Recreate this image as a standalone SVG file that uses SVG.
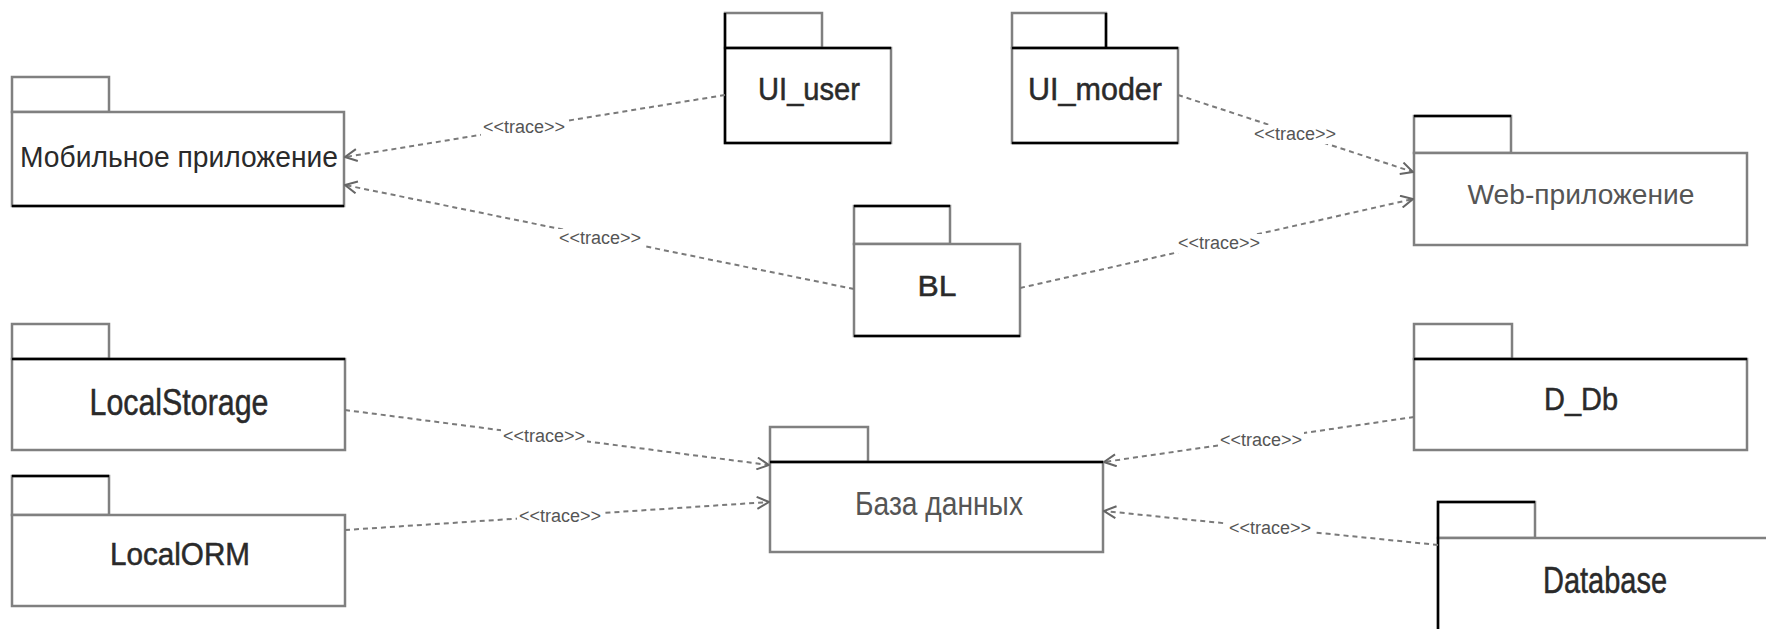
<svg xmlns="http://www.w3.org/2000/svg" width="1766" height="629" viewBox="0 0 1766 629">
  <defs>
    <style>
      .tab, .body { fill: #ffffff; stroke: #808080; stroke-width: 2.5; }
      .k { stroke: #000000; stroke-width: 2.5; fill: none; }
      .name { font-family: "Liberation Sans", Arial, sans-serif; fill: #2a2a2a; text-anchor: middle; }
      .heavy { stroke: #2a2a2a; stroke-width: 0.5; }
      .soft { fill: #555555; }
      .conn { fill: none; stroke: #7a7a7a; stroke-width: 2; stroke-dasharray: 5 4; }
      .lblbg { fill: #ffffff; }
      .lbl { font-family: "Liberation Sans", Arial, sans-serif; font-size: 18px; fill: #555555; text-anchor: middle; }
    </style>
    <marker id="open" markerUnits="userSpaceOnUse" viewBox="0 0 14 14" markerWidth="14" markerHeight="14" refX="13" refY="7" orient="auto">
      <path d="M1,1 L13,7 L1,13" fill="none" stroke="#666666" stroke-width="2"/>
    </marker>
  </defs>

  <!-- packages -->
  <g id="mobile-app">
    <rect class="tab" x="12" y="77" width="97" height="35"/>
    <rect class="body" x="12" y="112" width="332" height="94"/>
    <line class="k" x1="12" y1="206" x2="344" y2="206"/>
    <text class="name" x="179" y="167" font-size="30" textLength="318" lengthAdjust="spacingAndGlyphs">Мобильное приложение</text>
  </g>

  <g id="ui-user">
    <rect class="tab" x="725" y="13" width="97" height="35"/>
    <rect class="body" x="725" y="48" width="166" height="95"/>
    <path class="k" d="M725,48 V13 M725,48 H891 M725,48 V143 H891"/>
    <text class="name heavy" x="809" y="100" font-size="31" textLength="102" lengthAdjust="spacingAndGlyphs">UI_user</text>
  </g>

  <g id="ui-moder">
    <rect class="tab" x="1012" y="13" width="94" height="35"/>
    <rect class="body" x="1012" y="48" width="166" height="95"/>
    <path class="k" d="M1106,13 V48 M1012,48 H1178 M1012,143 H1178"/>
    <text class="name heavy" x="1095" y="100" font-size="31" textLength="134" lengthAdjust="spacingAndGlyphs">UI_moder</text>
  </g>

  <g id="web-app">
    <rect class="tab" x="1414" y="116" width="97" height="37"/>
    <rect class="body" x="1414" y="153" width="333" height="92"/>
    <line class="k" x1="1414" y1="116" x2="1511" y2="116"/>
    <text class="name soft" x="1581" y="204" font-size="27" textLength="227" lengthAdjust="spacingAndGlyphs">Web-приложение</text>
  </g>

  <g id="bl">
    <rect class="tab" x="854" y="206" width="96" height="38"/>
    <rect class="body" x="854" y="244" width="166" height="92"/>
    <path class="k" d="M854,206 H950 M854,336 H1020"/>
    <text class="name heavy" x="937" y="296" font-size="30" textLength="39" lengthAdjust="spacingAndGlyphs">BL</text>
  </g>

  <g id="local-storage">
    <rect class="tab" x="12" y="324" width="97" height="35"/>
    <rect class="body" x="12" y="359" width="333" height="91"/>
    <line class="k" x1="12" y1="359" x2="345" y2="359"/>
    <text class="name heavy" x="179" y="415" font-size="37" textLength="179" lengthAdjust="spacingAndGlyphs">LocalStorage</text>
  </g>

  <g id="local-orm">
    <rect class="tab" x="12" y="476" width="97" height="39"/>
    <rect class="body" x="12" y="515" width="333" height="91"/>
    <line class="k" x1="12" y1="476" x2="109" y2="476"/>
    <text class="name heavy" x="180" y="565" font-size="31" textLength="140" lengthAdjust="spacingAndGlyphs">LocalORM</text>
  </g>

  <g id="database-ru">
    <rect class="tab" x="770" y="427" width="98" height="35"/>
    <rect class="body" x="770" y="462" width="333" height="90"/>
    <line class="k" x1="770" y1="462" x2="1103" y2="462"/>
    <text class="name soft" x="939" y="515" font-size="34" textLength="168" lengthAdjust="spacingAndGlyphs">База данных</text>
  </g>

  <g id="d-db">
    <rect class="tab" x="1414" y="324" width="98" height="35"/>
    <rect class="body" x="1414" y="359" width="333" height="91"/>
    <line class="k" x1="1414" y1="359" x2="1747" y2="359"/>
    <text class="name heavy" x="1581" y="410" font-size="31" textLength="74" lengthAdjust="spacingAndGlyphs">D_Db</text>
  </g>

  <g id="database">
    <rect class="tab" x="1438" y="502" width="97" height="36"/>
    <rect class="body" x="1438" y="538" width="333" height="95"/>
    <path class="k" d="M1535,502 H1438 V633"/>
    <text class="name heavy" x="1605" y="593" font-size="36" textLength="124" lengthAdjust="spacingAndGlyphs">Database</text>
  </g>

  <!-- trace dependencies -->
  <g id="connectors">
    <line class="conn" x1="725" y1="95" x2="345" y2="157" marker-end="url(#open)"/>
    <line class="conn" x1="854" y1="289" x2="345" y2="185" marker-end="url(#open)"/>
    <line class="conn" x1="1178" y1="95" x2="1413" y2="172" marker-end="url(#open)"/>
    <line class="conn" x1="1020" y1="288" x2="1413" y2="199" marker-end="url(#open)"/>
    <line class="conn" x1="345" y1="410" x2="769" y2="465" marker-end="url(#open)"/>
    <line class="conn" x1="345" y1="530" x2="769" y2="502" marker-end="url(#open)"/>
    <line class="conn" x1="1414" y1="417" x2="1104" y2="462" marker-end="url(#open)"/>
    <line class="conn" x1="1438" y1="545" x2="1104" y2="511" marker-end="url(#open)"/>

    <rect class="lblbg" x="481" y="118" width="86" height="19"/>
    <text class="lbl" x="524" y="133" textLength="82" lengthAdjust="spacingAndGlyphs">&lt;&lt;trace&gt;&gt;</text>
    <rect class="lblbg" x="557" y="229" width="86" height="19"/>
    <text class="lbl" x="600" y="244" textLength="82" lengthAdjust="spacingAndGlyphs">&lt;&lt;trace&gt;&gt;</text>
    <rect class="lblbg" x="1252" y="125" width="86" height="19"/>
    <text class="lbl" x="1295" y="140" textLength="82" lengthAdjust="spacingAndGlyphs">&lt;&lt;trace&gt;&gt;</text>
    <rect class="lblbg" x="1176" y="234" width="86" height="19"/>
    <text class="lbl" x="1219" y="249" textLength="82" lengthAdjust="spacingAndGlyphs">&lt;&lt;trace&gt;&gt;</text>
    <rect class="lblbg" x="501" y="427" width="86" height="19"/>
    <text class="lbl" x="544" y="442" textLength="82" lengthAdjust="spacingAndGlyphs">&lt;&lt;trace&gt;&gt;</text>
    <rect class="lblbg" x="517" y="507" width="86" height="19"/>
    <text class="lbl" x="560" y="522" textLength="82" lengthAdjust="spacingAndGlyphs">&lt;&lt;trace&gt;&gt;</text>
    <rect class="lblbg" x="1218" y="431" width="86" height="19"/>
    <text class="lbl" x="1261" y="446" textLength="82" lengthAdjust="spacingAndGlyphs">&lt;&lt;trace&gt;&gt;</text>
    <rect class="lblbg" x="1227" y="519" width="86" height="19"/>
    <text class="lbl" x="1270" y="534" textLength="82" lengthAdjust="spacingAndGlyphs">&lt;&lt;trace&gt;&gt;</text>
  </g>
</svg>
